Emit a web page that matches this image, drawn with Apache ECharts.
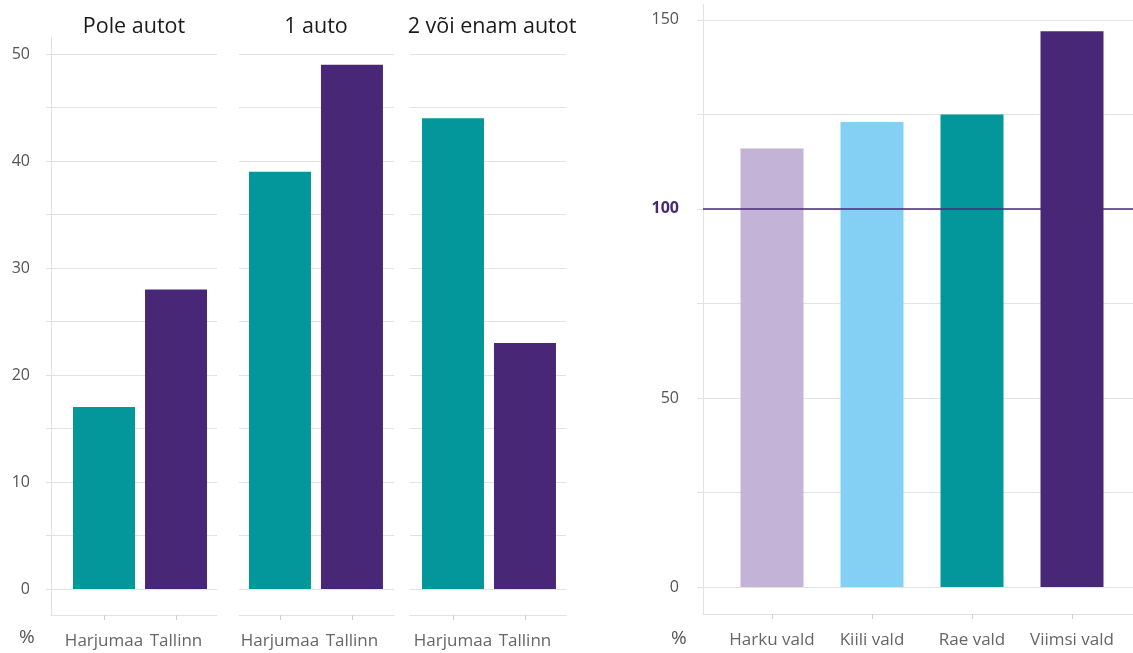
<!DOCTYPE html>
<html><head><meta charset="utf-8">
<script src="https://cdn.jsdelivr.net/npm/echarts@6/dist/echarts.min.js"></script>
<style>html,body{margin:0;padding:0;background:#fff}#c{width:1133px;height:653px}</style>
</head><body><div id="c"></div>
<script>
// ---- data ----
const facetTitles = ['Pole autot', '1 auto', '2 või enam autot'];
const regions = ['Harjumaa', 'Tallinn'];
const poleAutot = [17, 28];
const yksAuto = [39, 49];
const kaksVoiEnam = [44, 23];
const municipalities = ['Harku vald', 'Kiili vald', 'Rae vald', 'Viimsi vald'];
const indexValues = [116, 123, 125, 147];
const referenceValue = 100;
const leftTickValues = [0, 5, 10, 15, 20, 25, 30, 35, 40, 45, 50];
const leftLabelValues = [0, 10, 20, 30, 40, 50];
const rightTickValues = [0, 25, 50, 75, 100, 125, 150];
const rightLabelValues = [0, 50, 100, 150];
const unitLabel = '%';

// ---- style ----
const FONT = 'Open Sans';
const regionColors = ['#03979b', '#482876'];
const municipalityColors = ['#c3b3d6', '#84d0f5', '#03979b', '#482876'];
const gridColor = '#e2e2e2';
const labelColor = '#555';
const noLine = { show: false, lineStyle: { color: 'rgba(0,0,0,0)', width: 0 } };

const facetData = [poleAutot, yksAuto, kaksVoiEnam];
const facetGrids = [
  { left: 51, width: 166, xmin: -0.736, xmax: 1.569, titleX: 129 },
  { left: 239, width: 155, xmin: -0.569, xmax: 1.584, titleX: 311 },
  { left: 410, width: 156, xmin: -0.597, xmax: 1.57, titleX: 487 }
];

const grid = [], xAxis = [], yAxis = [], series = [], title = [];
facetGrids.forEach((g, i) => {
  grid.push({ left: g.left, width: g.width, top: 38, height: 577 });
  xAxis.push({
    type: 'value', gridIndex: i, min: g.xmin, max: g.xmax,
    axisLine: { show: true, onZero: false, lineStyle: { color: gridColor, width: 1 } },
    axisTick: { show: true, customValues: regions.map((_, k) => k), length: 5, lineStyle: { color: '#cfcfcf' } },
    axisLabel: { customValues: regions.map((_, k) => k), formatter: v => regions[v] ?? '', color: '#666', fontFamily: FONT, fontSize: 17, margin: 18 },
    splitLine: noLine, minorSplitLine: noLine, splitArea: { show: false }
  });
  yAxis.push({
    type: 'value', gridIndex: i, min: -2.43, max: 51.5,
    axisLine: { show: i === 0, onZero: false, lineStyle: { color: gridColor, width: 1 } },
    axisTick: { show: i === 0, customValues: leftTickValues, length: 5, lineStyle: { color: gridColor } },
    axisLabel: { show: i === 0, customValues: leftLabelValues, color: labelColor, fontFamily: FONT, fontSize: 16, margin: 21 },
    splitLine: { show: true, lineStyle: { color: gridColor, width: 1 } }
  });
  series.push({
    type: 'bar', xAxisIndex: i, yAxisIndex: i, barWidth: 62,
    data: facetData[i].map((v, k) => [k, v]),
    itemStyle: { color: p => regionColors[p.dataIndex] },
    silent: true
  });
  title.push({
    text: facetTitles[i], left: g.titleX, top: 11, textAlign: 'center',
    textStyle: { fontFamily: FONT, fontSize: 21.5, fontWeight: 'normal', color: '#1a1a1a' }
  });
});

// right panel
grid.push({ left: 703, width: 430, top: 4, height: 610 });
xAxis.push({
  type: 'value', gridIndex: 3, min: -0.69, max: 3.61,
  axisLine: { show: true, onZero: false, lineStyle: { color: gridColor, width: 1 } },
  axisTick: { show: true, customValues: municipalities.map((_, k) => k), length: 5, lineStyle: { color: '#cfcfcf' } },
  axisLabel: { customValues: municipalities.map((_, k) => k), formatter: v => municipalities[v] ?? '', color: '#666', fontFamily: FONT, fontSize: 17, margin: 18 },
  splitLine: noLine, minorSplitLine: noLine, splitArea: { show: false }
});
yAxis.push({
  type: 'value', gridIndex: 3, min: -7.15, max: 154.2,
  axisLine: { show: true, onZero: false, lineStyle: { color: gridColor, width: 1 } },
  axisTick: { show: true, customValues: rightTickValues, length: 6, lineStyle: { color: gridColor } },
  axisLabel: {
    customValues: rightLabelValues, color: labelColor, fontFamily: FONT, fontSize: 16, margin: 24,
    formatter: v => v === referenceValue ? '{hl|' + v + '}' : String(v),
    rich: { hl: { color: '#482876', fontWeight: 'bold', fontFamily: FONT, fontSize: 16 } }
  },
  splitLine: { show: true, lineStyle: { color: gridColor, width: 1 } }
});
series.push({
  type: 'bar', xAxisIndex: 3, yAxisIndex: 3, barWidth: 63,
  data: indexValues.map((v, k) => [k, v]),
  itemStyle: { color: p => municipalityColors[p.dataIndex] },
  silent: true,
  markLine: {
    silent: true, symbol: 'none', label: { show: false },
    lineStyle: { color: '#482876', width: 1.5, type: 'solid' },
    data: [{ yAxis: referenceValue }],
    z: 10
  }
});

const chart = echarts.init(document.getElementById('c'), null, { renderer: 'canvas' });
chart.setOption({
  animation: false,
  backgroundColor: '#fff',
  textStyle: { fontFamily: FONT },
  title, grid, xAxis, yAxis, series,
  graphic: [
    { type: 'text', left: 19, top: 628, style: { text: unitLabel, font: '19px "Open Sans"', fill: '#555' } },
    { type: 'text', left: 671, top: 629, style: { text: unitLabel, font: '19px "Open Sans"', fill: '#555' } }
  ]
});
</script>
</body></html>
